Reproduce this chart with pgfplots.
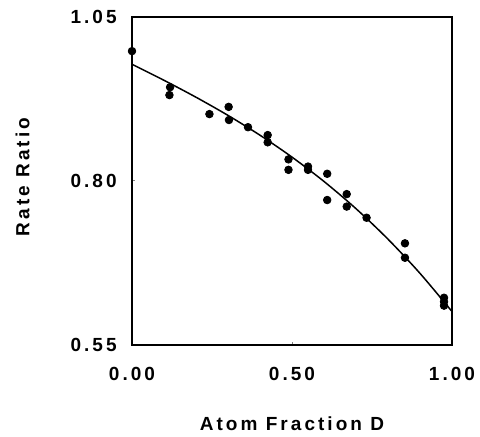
\documentclass[border=0pt]{standalone}
\usepackage{fontspec}
\usepackage{pgfplots}
\pgfplotsset{compat=1.18}
\newfontfamily\labfont[LetterSpace=16]{Liberation Sans}
\newcommand{\lab}{\fontsize{9.5pt}{11pt}\labfont\bfseries}

\begin{document}
\begin{tikzpicture}
\useasboundingbox (-66pt,-46pt) rectangle (174pt,172.5pt);
\begin{axis}[
    at={(0,0)}, anchor=south west,
    scale only axis,
    width=160pt, height=164pt,
    xmin=0, xmax=1, ymin=0.55, ymax=1.05,
    xtick={0,0.5,1}, xticklabels={0.00,0.50,1.00},
    ytick={0.55,0.8,1.05}, yticklabels={0.55,0.80,1.05},
    tick align=inside, xtick pos=left, ytick pos=left,
    major tick length=1.5pt,
    axis line style={line width=0.8pt},
    tick style={line width=0.5pt},
    ticklabel style={font=\lab, inner sep=0pt},
    xticklabel style={anchor=north, yshift=-11pt},
    yticklabel style={anchor=east, xshift=-7.5pt},
    xlabel={Atom Fraction D},
    ylabel={Rate Ratio},
    label style={font=\lab, inner sep=0pt},
    xlabel style={at={(axis description cs:0.5,-0.241)}, anchor=center},
    ylabel style={at={(axis description cs:-0.342,0.512)}, anchor=center},
    clip=false,
]
% measured points
\addplot[only marks, mark=*, mark size=1.9pt, black] coordinates {
    (0.0,0.998)
    (0.119,0.943) (0.117,0.931)
    (0.242,0.902)
    (0.302,0.913) (0.303,0.893)
    (0.3625,0.882)
    (0.424,0.870) (0.424,0.859)
    (0.489,0.833) (0.489,0.817)
    (0.55,0.822) (0.55,0.817)
    (0.610,0.811) (0.610,0.771)
    (0.671,0.780) (0.671,0.761)
    (0.733,0.744)
    (0.853,0.705) (0.853,0.683)
    (0.975,0.622) (0.975,0.616) (0.975,0.610)
};
% fitted curve
\addplot[smooth, black, line width=0.75pt] coordinates {
    (0.0,0.978) (0.1,0.9535) (0.2,0.9277) (0.3,0.9000) (0.4,0.8698)
    (0.5,0.8364) (0.6,0.7993) (0.7,0.7578) (0.8,0.7113) (0.9,0.6592)
    (1.0,0.601)
};
\end{axis}
\end{tikzpicture}
\end{document}
